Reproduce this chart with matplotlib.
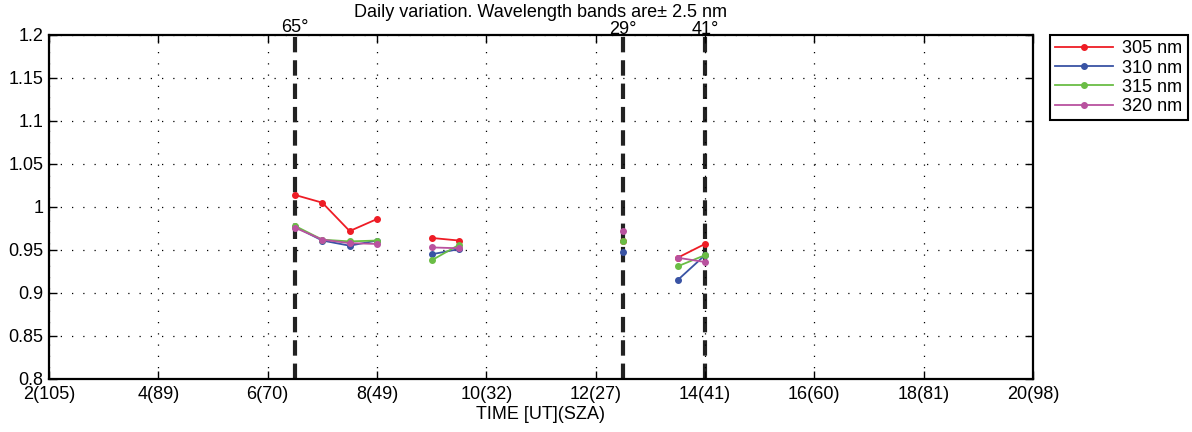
import numpy as np
import matplotlib
matplotlib.use("Agg")
import matplotlib.pyplot as plt

# Data (NaN separates measurement groups)
time_ut = [6.5, 7.0, 7.5, 8.0, np.nan, 9.0, 9.5, np.nan, 12.5, np.nan, 13.5, 14.0]
r305 = [1.014, 1.005, 0.972, 0.986, np.nan, 0.964, 0.961, np.nan, 0.960, np.nan, 0.941, 0.957]
r310 = [0.977, 0.961, 0.955, 0.961, np.nan, 0.945, 0.951, np.nan, 0.948, np.nan, 0.915, 0.944]
r315 = [0.978, 0.962, 0.960, 0.961, np.nan, 0.938, 0.956, np.nan, 0.961, np.nan, 0.931, 0.944]
r320 = [0.976, 0.962, 0.958, 0.957, np.nan, 0.953, 0.952, np.nan, 0.972, np.nan, 0.941, 0.936]
series_labels = ["305 nm", "310 nm", "315 nm", "320 nm"]
series_colors = ["#ee1c25", "#3953a4", "#6abd45", "#b9529f"]

xticks = [2, 4, 6, 8, 10, 12, 14, 16, 18, 20]
xticklabels = ["2(105)", "4(89)", "6(70)", "8(49)", "10(32)", "12(27)",
               "14(41)", "16(60)", "18(81)", "20(98)"]
yticks = [0.8, 0.85, 0.9, 0.95, 1.0, 1.05, 1.1, 1.15, 1.2]
yticklabels = ["0.8", "0.85", "0.9", "0.95", "1", "1.05", "1.1", "1.15", "1.2"]

sza_marks = [6.5, 12.5, 14.0]
sza_labels = ["65°", "29°", "41°"]

plt.rcParams['font.family'] = ['Liberation Sans', 'DejaVu Sans']
FS = 13

fig = plt.figure(figsize=(11.92, 4.32), dpi=100)
ax = fig.add_axes([0.0411, 0.1227, 0.8255, 0.7963])

for vals, lab, col in zip([r305, r310, r315, r320], series_labels, series_colors):
    ax.plot(time_ut, vals, color=col, lw=1.3, marker='o', ms=4, label=lab)

for i, (xm, lab) in enumerate(zip(sza_marks, sza_labels)):
    ax.axvline(xm, color='#222222', lw=3, ls=(0, (3.7, 1.9)), zorder=1)
    yoff = 0.004 if i == 0 else 0.001
    ax.text(xm, 1.2 + yoff, lab, ha='center', va='baseline', fontsize=FS)

ax.set_xlim(2, 20)
ax.set_ylim(0.8, 1.2)
ax.set_xticks(xticks)
ax.set_xticklabels(xticklabels)
ax.set_yticks(yticks)
ax.set_yticklabels(yticklabels)
ax.tick_params(direction='in', top=True, right=True, length=6, width=1,
               labelsize=FS)
ax.tick_params(axis='x', pad=5)
ax.tick_params(axis='y', pad=4)
ax.grid(True, color='black', ls=(0, (1, 8)), lw=0.9)
for sp in ax.spines.values():
    sp.set_linewidth(1.6)

ax.set_xlabel("TIME [UT](SZA)", fontsize=FS, labelpad=2)
ax.set_title("Daily variation. Wavelength bands are\u00b1 2.5 nm", fontsize=FS, pad=13)

leg = ax.legend(loc='upper left', bbox_to_anchor=(1050 / 1192, 1 - 35 / 432),
                bbox_transform=fig.transFigure, fontsize=FS, fancybox=False,
                edgecolor='black', framealpha=1, handlelength=3.2,
                borderpad=0.3, labelspacing=0.12, handletextpad=0.5,
                borderaxespad=0)
leg.get_frame().set_linewidth(1.5)

fig.savefig("out.png", dpi=100)
